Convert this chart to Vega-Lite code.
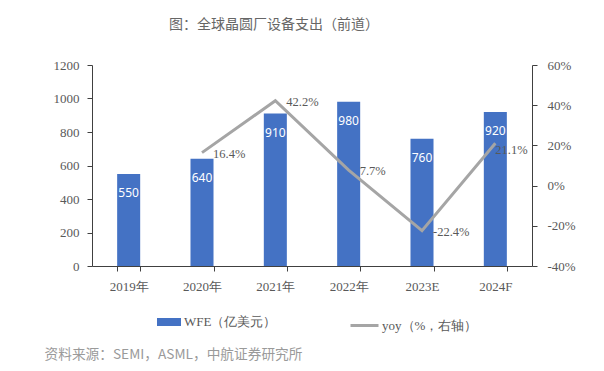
{
  "$schema": "https://vega.github.io/schema/vega-lite/v6.json",
  "width": 440,
  "height": 201,
  "autosize": {"type": "none"},
  "padding": {"left": 92, "top": 65, "right": 72, "bottom": 105},
  "background": "white",
  "title": {
    "text": "图：全球晶圆厂设备支出（前道）",
    "anchor": "start",
    "frame": "group",
    "dx": 77,
    "offset": 27,
    "font": "Noto Sans CJK SC",
    "fontSize": 14,
    "fontWeight": "normal",
    "color": "#666666"
  },
  "config": {
    "view": {"stroke": null},
    "locale": {"number": {"decimal": ".", "thousands": ",", "grouping": [3], "currency": ["$", ""], "minus": "-"}}
  },
  "data": {
    "values": [
      {"year": "2019年", "wfe": 550, "yoy": null},
      {"year": "2020年", "wfe": 640, "yoy": 0.164},
      {"year": "2021年", "wfe": 910, "yoy": 0.422},
      {"year": "2022年", "wfe": 980, "yoy": 0.077},
      {"year": "2023E", "wfe": 760, "yoy": -0.224},
      {"year": "2024F", "wfe": 920, "yoy": 0.211}
    ]
  },
  "encoding": {
    "x": {
      "field": "year",
      "type": "nominal",
      "sort": null,
      "scale": {"paddingInner": 0.686, "paddingOuter": 0.343},
      "axis": {
        "labelAngle": 0,
        "tickBand": "extent",
        "tickSize": 5,
        "tickColor": "#404040",
        "domainColor": "#404040",
        "labelPadding": 9,
        "labelFont": "'Liberation Serif', 'Times New Roman', serif",
        "labelFontSize": 13,
        "labelColor": "#595959",
        "title": "资料来源：SEMI，ASML，中航证券研究所",
        "titleX": -48,
        "titleY": 88,
        "titleAlign": "left",
        "titleBaseline": "middle",
        "titleFont": "Noto Sans CJK SC",
        "titleFontSize": 13.7,
        "titleFontWeight": "normal",
        "titleColor": "#9a9a9a"
      }
    }
  },
  "layer": [
    {
      "encoding": {
        "y": {
          "field": "wfe",
          "type": "quantitative",
          "scale": {"domain": [0, 1200], "nice": false},
          "axis": {
            "orient": "left",
            "values": [0, 200, 400, 600, 800, 1000, 1200],
            "format": "d",
            "title": null,
            "grid": false,
            "tickSize": 5,
            "tickColor": "#404040",
            "domainColor": "#404040",
            "labelPadding": 8,
            "labelFont": "'Liberation Serif', 'Times New Roman', serif",
            "labelFontSize": 13,
            "labelColor": "#595959"
          }
        }
      },
      "layer": [
        {
          "mark": {"type": "bar"},
          "encoding": {
            "fill": {
              "datum": "WFE（亿美元）",
              "type": "nominal",
              "scale": {"range": ["#4472C4"]},
              "legend": {
                "orient": "none",
                "legendX": 65,
                "legendY": 245,
                "title": null,
                "padding": 0,
                "symbolType": "M-1,-0.333H1V0.333H-1Z",
                "symbolSize": 576,
                "symbolStrokeWidth": 0,
                "labelFont": "'Liberation Serif', 'Times New Roman', serif",
                "labelFontSize": 13,
                "labelColor": "#595959",
                "labelOffset": 3
              }
            }
          }
        },
        {
          "mark": {"type": "text", "baseline": "middle", "dy": 19, "color": "white", "font": "Noto Sans", "fontSize": 12},
          "encoding": {"text": {"field": "wfe", "type": "quantitative"}}
        }
      ]
    },
    {
      "encoding": {
        "y": {
          "field": "yoy",
          "type": "quantitative",
          "scale": {"domain": [-0.4, 0.6], "nice": false},
          "axis": {
            "orient": "right",
            "values": [-0.4, -0.2, 0, 0.2, 0.4, 0.6],
            "format": ".0%",
            "title": null,
            "grid": false,
            "tickSize": 5,
            "tickColor": "#404040",
            "domainColor": "#404040",
            "labelPadding": 10,
            "labelFont": "'Liberation Serif', 'Times New Roman', serif",
            "labelFontSize": 13,
            "labelColor": "#595959"
          }
        }
      },
      "layer": [
        {
          "mark": {"type": "line", "strokeWidth": 3},
          "encoding": {
            "stroke": {
              "datum": "yoy（%，右轴）",
              "type": "nominal",
              "scale": {"range": ["#A5A5A5"]},
              "legend": {
                "orient": "none",
                "legendX": 257,
                "legendY": 245,
                "title": null,
                "padding": 0,
                "symbolType": "stroke",
                "symbolSize": 784,
                "symbolStrokeWidth": 3,
                "labelFont": "'Liberation Serif', 'Times New Roman', serif",
                "labelFontSize": 13,
                "labelColor": "#595959",
                "labelOffset": 2
              }
            }
          }
        },
        {
          "transform": [{"filter": "datum.yoy != null && datum.year != '2024F'"}],
          "mark": {"type": "text", "align": "left", "baseline": "middle", "dx": 11, "dy": 1, "color": "#595959", "font": "'Liberation Serif', 'Times New Roman', serif", "fontSize": 12.5},
          "encoding": {"text": {"field": "yoy", "type": "quantitative", "format": ".1%"}}
        },
        {
          "transform": [{"filter": "datum.year == '2024F'"}],
          "mark": {"type": "text", "align": "left", "baseline": "middle", "dx": 0, "dy": 7, "color": "#595959", "font": "'Liberation Serif', 'Times New Roman', serif", "fontSize": 12.5},
          "encoding": {"text": {"field": "yoy", "type": "quantitative", "format": ".1%"}}
        }
      ]
    }
  ],
  "resolve": {"scale": {"y": "independent"}}
}
